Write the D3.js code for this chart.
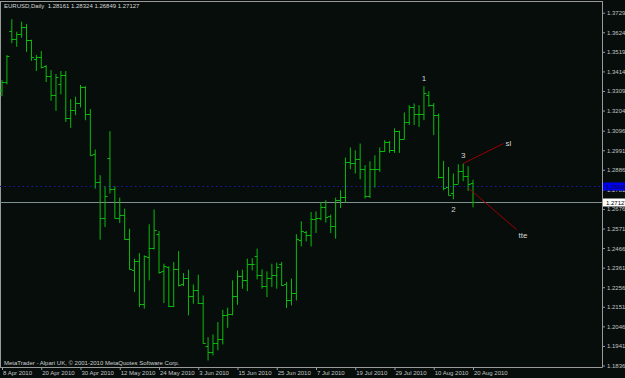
<!DOCTYPE html>
<html>
<head>
<meta charset="utf-8">
<script src="https://cdn.jsdelivr.net/npm/d3@7"></script>
<style>
  html, body { margin: 0; padding: 0; background: #060d0b; }
  svg { display: block; }
  text { font-family: 'Liberation Sans', Arial, sans-serif; }
</style>
</head>
<body>
<svg id="chart"></svg>
<script>
const SYMBOL = 'EURUSD,Daily';

const DATES = [
  '2010-04-08', '2010-04-09', '2010-04-12', '2010-04-13', '2010-04-14', '2010-04-15', '2010-04-16',
  '2010-04-19', '2010-04-20', '2010-04-21', '2010-04-22', '2010-04-23', '2010-04-26', '2010-04-27',
  '2010-04-28', '2010-04-29', '2010-04-30',
  '2010-05-03', '2010-05-04', '2010-05-05', '2010-05-06', '2010-05-07', '2010-05-10', '2010-05-11',
  '2010-05-12', '2010-05-13', '2010-05-14', '2010-05-17', '2010-05-18', '2010-05-19', '2010-05-20',
  '2010-05-21', '2010-05-24', '2010-05-25', '2010-05-26', '2010-05-27', '2010-05-28', '2010-05-31',
  '2010-06-01', '2010-06-02', '2010-06-03', '2010-06-04', '2010-06-07', '2010-06-08', '2010-06-09',
  '2010-06-10', '2010-06-11', '2010-06-14', '2010-06-15', '2010-06-16', '2010-06-17', '2010-06-18',
  '2010-06-21', '2010-06-22', '2010-06-23', '2010-06-24', '2010-06-25', '2010-06-28', '2010-06-29',
  '2010-06-30',
  '2010-07-01', '2010-07-02', '2010-07-05', '2010-07-06', '2010-07-07', '2010-07-08', '2010-07-09',
  '2010-07-12', '2010-07-13', '2010-07-14', '2010-07-15', '2010-07-16', '2010-07-19', '2010-07-20',
  '2010-07-21', '2010-07-22', '2010-07-23', '2010-07-26', '2010-07-27', '2010-07-28', '2010-07-29',
  '2010-07-30',
  '2010-08-02', '2010-08-03', '2010-08-04', '2010-08-05', '2010-08-06', '2010-08-09', '2010-08-10',
  '2010-08-11', '2010-08-12', '2010-08-13', '2010-08-16', '2010-08-17', '2010-08-18', '2010-08-19',
  '2010-08-20',
];

const OPEN = [
  1.3314, 1.3358, 1.3631, 1.3586, 1.3613, 1.3650, 1.3581, 1.3479, 1.3489, 1.3443,
  1.3387, 1.3285, 1.3346, 1.3393, 1.3162, 1.3205, 1.3242, 1.3331, 1.3188, 1.2973,
  1.2818, 1.2630, 1.2948, 1.2785, 1.2630, 1.2642, 1.2517, 1.2346, 1.2396, 1.2167,
  1.2418, 1.2466, 1.2544, 1.2343, 1.2364, 1.2157, 1.2356, 1.2275, 1.2303, 1.2208,
  1.2243, 1.2174, 1.1940, 1.1911, 1.1958, 1.1979, 1.2105, 1.2114, 1.2208, 1.2318,
  1.2296, 1.2379, 1.2425, 1.2320, 1.2264, 1.2307, 1.2323, 1.2379, 1.2275, 1.2185,
  1.2227, 1.2511, 1.2552, 1.2534, 1.2620, 1.2630, 1.2687, 1.2637, 1.2584, 1.2726,
  1.2740, 1.2928, 1.2920, 1.2943, 1.2888, 1.2746, 1.2888, 1.2893, 1.2986, 1.3036,
  1.2991, 1.3093, 1.3054, 1.3143, 1.3224, 1.3185, 1.3188, 1.3287, 1.3233, 1.3179,
  1.2845, 1.2794, 1.2762, 1.2812, 1.2878, 1.2851, 1.28161,
];

const HIGH = [
  1.3367, 1.3502, 1.3694, 1.3627, 1.3681, 1.3668, 1.3584, 1.3502, 1.3523, 1.3448,
  1.3421, 1.3400, 1.3416, 1.3416, 1.3265, 1.3278, 1.3341, 1.3335, 1.3212, 1.2995,
  1.2857, 1.2798, 1.3093, 1.2798, 1.2737, 1.2678, 1.2570, 1.2409, 1.2439, 1.2427,
  1.2594, 1.2673, 1.2558, 1.2382, 1.2368, 1.2391, 1.2450, 1.2332, 1.2350, 1.2271,
  1.2323, 1.2212, 1.1988, 1.2003, 1.2069, 1.2135, 1.2146, 1.2293, 1.2346, 1.2350,
  1.2409, 1.2412, 1.2463, 1.2352, 1.2341, 1.2382, 1.2388, 1.2391, 1.2284, 1.2302,
  1.2540, 1.2610, 1.2558, 1.2660, 1.2663, 1.2713, 1.2723, 1.2646, 1.2737, 1.2776,
  1.2952, 1.3006, 1.2991, 1.3027, 1.2911, 1.2932, 1.2964, 1.3006, 1.3045, 1.3041,
  1.3108, 1.3096, 1.3194, 1.3233, 1.3242, 1.3233, 1.3335, 1.3308, 1.3244, 1.3188,
  1.2934, 1.2901, 1.2866, 1.2916, 1.2920, 1.2905, 1.28324,
];

const LOW = [
  1.3281, 1.3344, 1.3565, 1.3546, 1.3595, 1.3519, 1.3471, 1.3416, 1.3430, 1.3357,
  1.3256, 1.3202, 1.3291, 1.3143, 1.3111, 1.3179, 1.3221, 1.3152, 1.2961, 1.2785,
  1.2511, 1.2579, 1.2759, 1.2624, 1.2601, 1.2511, 1.2350, 1.2230, 1.2149, 1.2141,
  1.2293, 1.2458, 1.2329, 1.2171, 1.2149, 1.2149, 1.2260, 1.2262, 1.2105, 1.2167,
  1.2167, 1.1953, 1.1863, 1.1890, 1.1917, 1.1949, 1.2038, 1.2105, 1.2162, 1.2248,
  1.2235, 1.2346, 1.2298, 1.2248, 1.2203, 1.2257, 1.2248, 1.2262, 1.2144, 1.2158,
  1.2185, 1.2475, 1.2502, 1.2475, 1.2547, 1.2615, 1.2603, 1.2547, 1.2517, 1.2681,
  1.2710, 1.2889, 1.2866, 1.2835, 1.2732, 1.2735, 1.2791, 1.2875, 1.2982, 1.2977,
  1.2977, 1.2977, 1.3049, 1.3126, 1.3126, 1.3116, 1.3152, 1.3224, 1.3072, 1.2839,
  1.2776, 1.2749, 1.2728, 1.2811, 1.2825, 1.2773, 1.26849,
];

const CLOSE = [
  1.3358, 1.3498, 1.3586, 1.3613, 1.3650, 1.3581, 1.3489, 1.3489, 1.3439, 1.3387,
  1.3285, 1.3382, 1.3393, 1.3162, 1.3205, 1.3242, 1.3328, 1.3188, 1.2968, 1.2818,
  1.2630, 1.2748, 1.2785, 1.2630, 1.2642, 1.2517, 1.2356, 1.2396, 1.2167, 1.2422,
  1.2466, 1.2565, 1.2337, 1.2368, 1.2157, 1.2356, 1.2266, 1.2305, 1.2207, 1.2243,
  1.2174, 1.1956, 1.1911, 1.1958, 1.1979, 1.2105, 1.2110, 1.2208, 1.2318, 1.2296,
  1.2379, 1.2381, 1.2320, 1.2264, 1.2307, 1.2323, 1.2364, 1.2270, 1.2185, 1.2227,
  1.2517, 1.2556, 1.2534, 1.2620, 1.2630, 1.2687, 1.2633, 1.2584, 1.2726, 1.2740,
  1.2928, 1.2920, 1.2943, 1.2888, 1.2746, 1.2888, 1.2893, 1.2986, 1.3036, 1.2991,
  1.3093, 1.3054, 1.3143, 1.3224, 1.3185, 1.3188, 1.3299, 1.3233, 1.3179, 1.2845,
  1.2791, 1.2752, 1.2812, 1.2878, 1.2851, 1.2808, 1.27127,
];

const PRICE_TICKS = [
  1.37290, 1.36240, 1.35190, 1.34140, 1.33090, 1.32040, 1.30960, 1.29910, 1.28860, 1.27810,
  1.26760, 1.25710, 1.24660, 1.23610, 1.22560, 1.21510, 1.20460, 1.19410, 1.18360,
];

const DATE_TICKS = [
  '2010-04-08', '2010-04-20', '2010-04-30', '2010-05-12', '2010-05-24', '2010-06-03', '2010-06-15',
  '2010-06-25', '2010-07-07', '2010-07-19', '2010-07-29', '2010-08-10', '2010-08-20',
];

const BID = 1.27127;
const LEVEL = 1.28000;

// wave marks and the two trend lines, in bar index / price terms
const WAVE_LABELS = [
  { text: '1', i: 86, p: 1.3378 },
  { text: '3', i: 94, p: 1.2964 },
  { text: '2', i: 92, p: 1.2674 },
  { text: 'sl', i: 103.2, p: 1.3029 },
  { text: 'tte', i: 106.2, p: 1.2534 },
];

const TREND_LINES = [
  { i1: 94, p1: 1.2920, i2: 102.2, p2: 1.3027 },
  { i1: 95.2, p1: 1.2785, i2: 104.9, p2: 1.2565 },
];

const COPYRIGHT = 'MetaTrader - Alpari UK, \u00a9 2001-2010 MetaQuotes Software Corp.';

const width = 625;
const height = 378;
const axisX = 602;
const axisY = 367;

const BG = '#060d0b';
const BAR = '#0cbc0c';
const AXIS = '#9a9a9a';
const LABEL = '#c4c4c4';

const bars = DATES.map((d, i) => {
  return { i, date: d, o: OPEN[i], h: HIGH[i], l: LOW[i], c: CLOSE[i] };
});

const svg = d3.select('#chart').attr('width', width).attr('height', height);

svg.append('rect').attr('width', width).attr('height', height).attr('fill', BG);

const x = d3.scaleLinear().domain([0, DATES.length - 1]).range([2, 473]);
const y = d3.scaleLinear().domain([1.18360, 1.37290]).range([365.5, 12.7]);

// frame
svg.append('line')
  .attr('x1', 0.5).attr('x2', axisX).attr('y1', 1.5).attr('y2', 1.5)
  .attr('stroke', AXIS);
svg.append('line')
  .attr('x1', 0.5).attr('x2', 0.5).attr('y1', 1).attr('y2', axisY)
  .attr('stroke', AXIS);

// bid line and level line
svg.append('line')
  .attr('x1', 0).attr('x2', axisX)
  .attr('y1', Math.round(y(BID)) + 0.5).attr('y2', Math.round(y(BID)) + 0.5)
  .attr('stroke', '#7f9090');

svg.append('line')
  .attr('x1', 0).attr('x2', axisX)
  .attr('y1', Math.round(y(LEVEL)) + 0.5).attr('y2', Math.round(y(LEVEL)) + 0.5)
  .attr('stroke', '#1a1aa8')
  .attr('stroke-dasharray', '1.5,3');

// OHLC bars
const g = svg.append('g');

const bar = g.selectAll('g.bar')
  .data(bars)
  .join('g')
  .attr('class', 'bar')
  .attr('stroke', BAR)
  .attr('stroke-width', 1);

bar.append('line')
  .attr('x1', d => { return x(d.i); })
  .attr('x2', d => { return x(d.i); })
  .attr('y1', d => { return y(d.h); })
  .attr('y2', d => { return y(d.l); });

bar.append('line')
  .attr('x1', d => { return x(d.i) - 2.5; })
  .attr('x2', d => { return x(d.i); })
  .attr('y1', d => { return Math.round(y(d.o)) + 0.5; })
  .attr('y2', d => { return Math.round(y(d.o)) + 0.5; });

bar.append('line')
  .attr('x1', d => { return x(d.i); })
  .attr('x2', d => { return x(d.i) + 2.5; })
  .attr('y1', d => { return Math.round(y(d.c)) + 0.5; })
  .attr('y2', d => { return Math.round(y(d.c)) + 0.5; });

// trend lines
svg.selectAll('line.trend')
  .data(TREND_LINES)
  .join('line')
  .attr('class', 'trend')
  .attr('x1', d => { return x(d.i1); })
  .attr('y1', d => { return y(d.p1); })
  .attr('x2', d => { return x(d.i2); })
  .attr('y2', d => { return y(d.p2); })
  .attr('stroke', '#9a0000')
  .attr('stroke-width', 1);

svg.selectAll('text.wave')
  .data(WAVE_LABELS)
  .join('text')
  .attr('class', 'wave')
  .attr('x', d => { return x(d.i); })
  .attr('y', d => { return y(d.p); })
  .attr('dy', '0.35em')
  .attr('text-anchor', 'middle')
  .attr('fill', '#d6d6d6')
  .attr('font-size', 8)
  .text(d => { return d.text; });

// price axis
const yAxis = d3.axisRight(y)
  .tickValues(PRICE_TICKS)
  .tickSize(3)
  .tickSizeOuter(0)
  .tickFormat(d3.format('.5f'));

const yg = svg.append('g')
  .attr('transform', `translate(${axisX},0)`)
  .call(yAxis);
yg.select('.domain').remove();
yg.selectAll('.tick line').attr('stroke', AXIS);
yg.selectAll('.tick text')
  .attr('x', 5)
  .attr('fill', LABEL)
  .attr('font-size', 6)
  .attr('font-family', "'Liberation Sans', Arial, sans-serif");

// date axis
const parse = d3.timeParse('%Y-%m-%d');
const fmt = d3.timeFormat('%-d %b %Y');

const xAxis = d3.axisBottom(x)
  .tickValues(DATE_TICKS.map(d => { return DATES.indexOf(d); }))
  .tickSize(3)
  .tickSizeOuter(0)
  .tickFormat(i => { return fmt(parse(DATES[i])); });

const xg = svg.append('g')
  .attr('transform', `translate(0,${axisY})`)
  .call(xAxis);
xg.select('.domain').remove();
xg.selectAll('.tick line').attr('stroke', AXIS);
xg.selectAll('.tick text')
  .attr('text-anchor', 'start')
  .attr('x', 0.5)
  .attr('y', 4)
  .attr('fill', LABEL)
  .attr('font-size', 6)
  .attr('font-family', "'Liberation Sans', Arial, sans-serif");

// axis lines
svg.append('line')
  .attr('x1', 0).attr('x2', axisX + 0.5)
  .attr('y1', axisY + 0.5).attr('y2', axisY + 0.5)
  .attr('stroke', AXIS);
svg.append('line')
  .attr('x1', axisX + 0.5).attr('x2', axisX + 0.5)
  .attr('y1', 1).attr('y2', axisY + 0.5)
  .attr('stroke', AXIS);

// price boxes on the axis
const boxes = [
  { p: LEVEL, fill: '#0000f0', color: '#0a0a40' },
  { p: BID, fill: '#ffffff', color: '#000000' },
];

boxes.forEach(b => {
  const cy = Math.round(y(b.p)) + 0.5;
  svg.append('rect')
    .attr('x', axisX + 1).attr('y', cy - 4)
    .attr('width', width - axisX).attr('height', 8)
    .attr('fill', b.fill);
  svg.append('text')
    .attr('x', axisX + 4).attr('y', cy)
    .attr('dy', '0.35em')
    .attr('fill', b.color)
    .attr('font-size', 6)
    .text(d3.format('.5f')(b.p));
});

// header and footer
const last = bars[bars.length - 1];
svg.append('text')
  .attr('x', 4).attr('y', 8)
  .attr('fill', '#d8d8d8')
  .attr('font-size', 6)
  .attr('xml:space', 'preserve')
  .text(`${SYMBOL}  ${[last.o, last.h, last.l, last.c].map(d3.format('.5f')).join(' ')}`);

svg.append('text')
  .attr('x', 4).attr('y', 364.5)
  .attr('fill', '#d0d0d0')
  .attr('font-size', 6)
  .text(COPYRIGHT);
</script>
</body>
</html>
